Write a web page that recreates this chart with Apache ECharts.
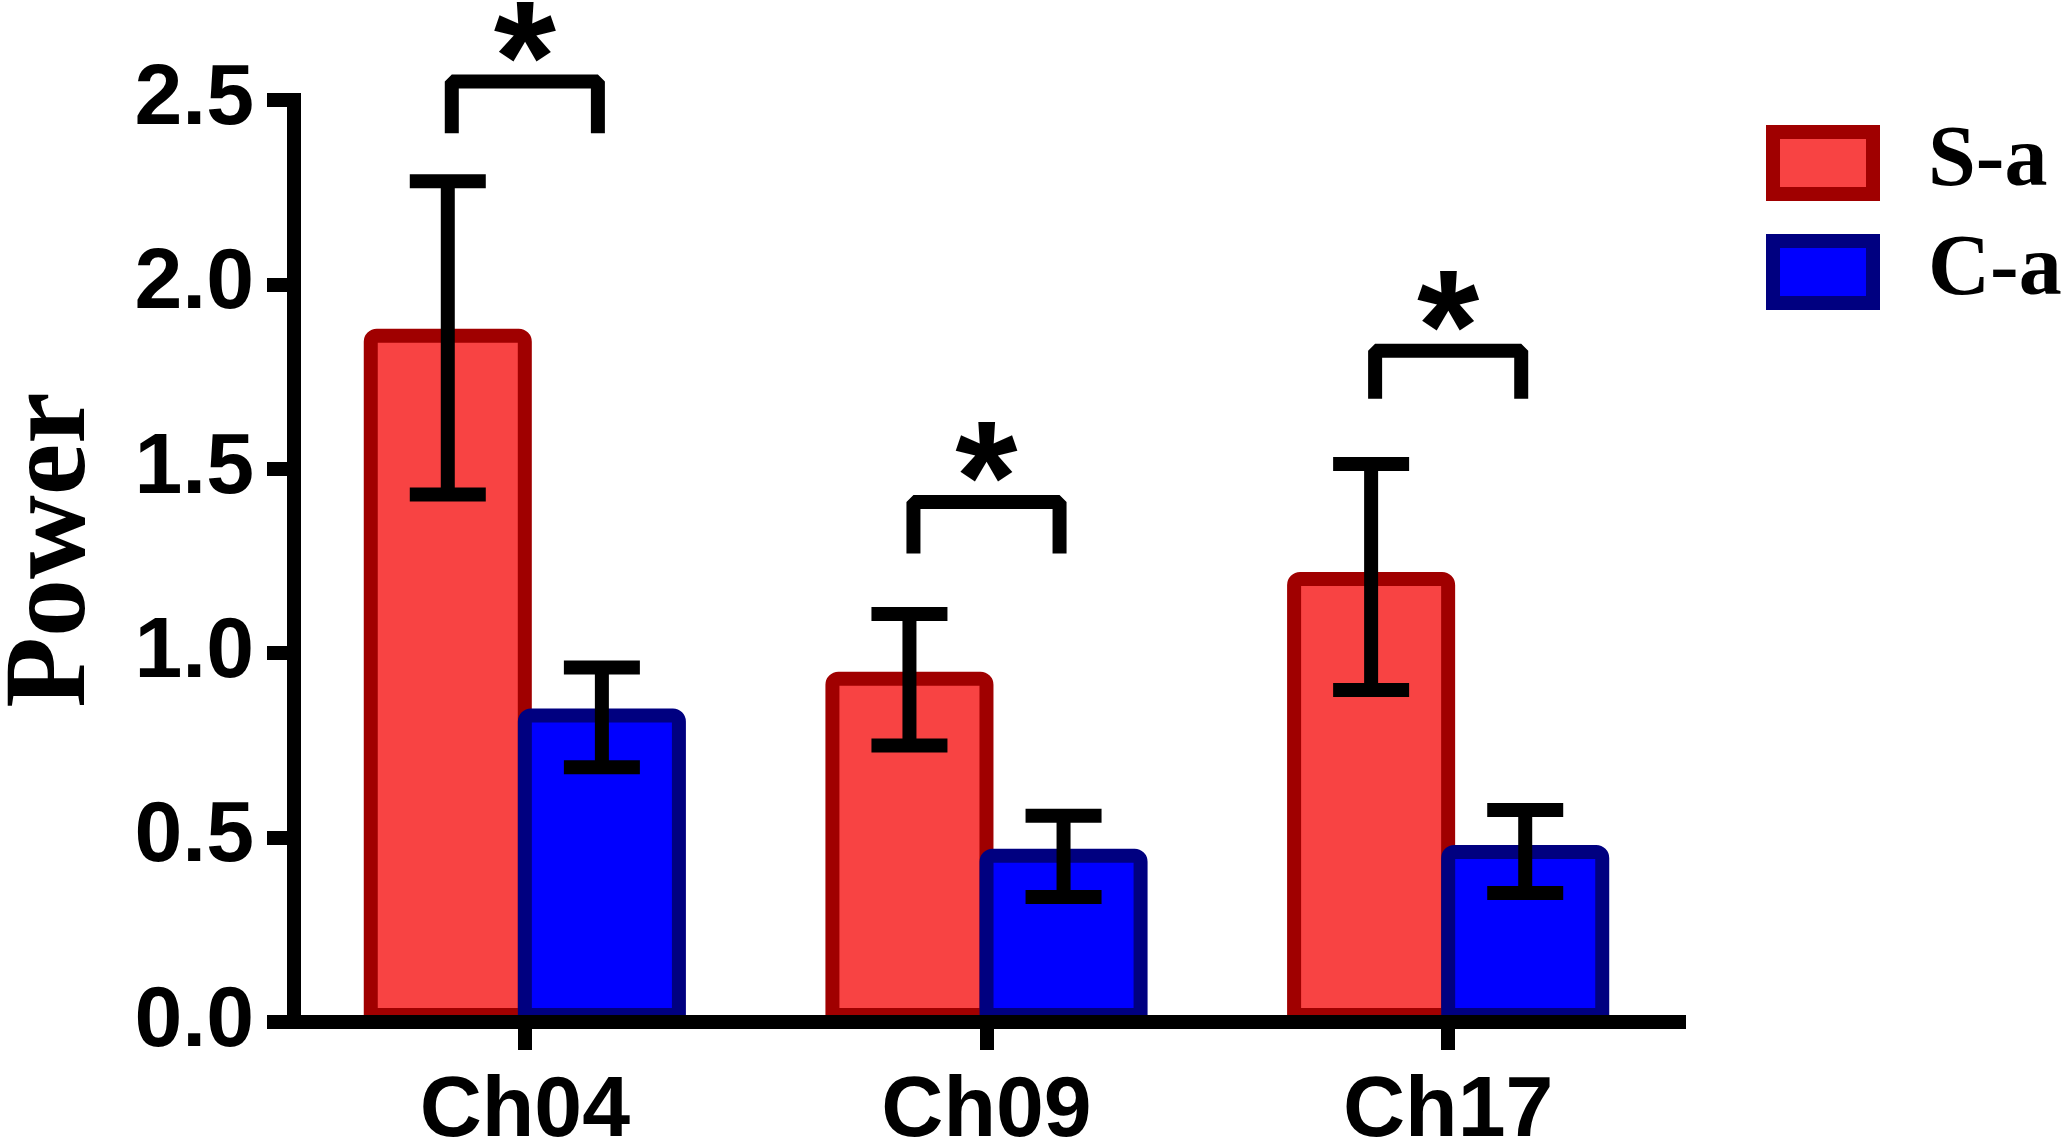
<!DOCTYPE html>
<html>
  <head>
    <meta charset="utf-8" />
    <title>Power bar chart</title>
    <script src="https://cdn.jsdelivr.net/npm/echarts@6.0.0/dist/echarts.min.js"></script>
    <style>
      body {
        margin: 0;
        padding: 0;
        background: #fff;
      }
      #main {
        width: 2066px;
        height: 1144px;
      }
    </style>
  </head>
  <body>
    <div id="main"></div>
    <script type="text/javascript">
      // data
      var channels = ["Ch04", "Ch09", "Ch17"];
      var seriesNames = ["S-a", "C-a"];
      var sMean = [1.88, 0.95, 1.22];
      var sLow = [1.43, 0.75, 0.9];
      var sHigh = [2.28, 1.106, 1.513];
      var cMean = [0.85, 0.47, 0.48];
      var cLow = [0.691, 0.339, 0.35];
      var cHigh = [0.961, 0.559, 0.575];
      // significance brackets: top and bottom of each bracket
      var bracketTop = [2.55, 1.41, 1.82];
      var bracketBottom = [2.41, 1.27, 1.69];
      var bracketMark = ["*", "*", "*"];
      var yTicks = [0, 0.5, 1, 1.5, 2, 2.5];

      var BAR_PCT = 36.4; // bar width, % of a category
      var BAR_GAP = -8.3; // bars share their border
      var OFF = (BAR_PCT / 100) * (1 + BAR_GAP / 100) / 2; // bar centre offset, part of a category

      var myChart = echarts.init(document.getElementById("main"));

      // error bar data: [category, low, high, side]  side -1 = S-a, 1 = C-a
      var errData = [];
      channels.forEach(function (c, i) {
        errData.push([i, sLow[i], sHigh[i], -1]);
        errData.push([i, cLow[i], cHigh[i], 1]);
      });

      var bracketData = channels.map(function (c, i) {
        return [i, bracketTop[i], bracketBottom[i]];
      });

      function renderError(params, api) {
        var band = api.size([1, 0])[0];
        var off = band * OFF * api.value(3);
        var lo = api.coord([api.value(0), api.value(1)]);
        var hi = api.coord([api.value(0), api.value(2)]);
        var x = lo[0] + off;
        var cap = 38;
        var style = { stroke: "#000", lineWidth: 14, fill: null };
        return {
          type: "group",
          children: [
            { type: "line", shape: { x1: x, y1: lo[1], x2: x, y2: hi[1] }, style: style },
            { type: "line", shape: { x1: x - cap, y1: lo[1], x2: x + cap, y2: lo[1] }, style: style },
            { type: "line", shape: { x1: x - cap, y1: hi[1], x2: x + cap, y2: hi[1] }, style: style }
          ]
        };
      }

      function renderBracket(params, api) {
        var band = api.size([1, 0])[0];
        var off = band * OFF;
        var top = api.coord([api.value(0), api.value(1)]);
        var bot = api.coord([api.value(0), api.value(2)]);
        var xl = top[0] - off + 4;
        var xr = top[0] + off - 4;
        return {
          type: "group",
          children: [
            {
              type: "polyline",
              shape: { points: [[xl, bot[1]], [xl, top[1]], [xr, top[1]], [xr, bot[1]]] },
              style: { stroke: "#000", lineWidth: 14, fill: null, lineJoin: "bevel" }
            },
            {
              type: "text",
              x: top[0],
              y: top[1] - 14,
              style: {
                text: bracketMark[params.dataIndex],
                fill: "#000",
                font: "bold 160px 'Liberation Sans', Arial, sans-serif",
                align: "center",
                verticalAlign: "middle"
              }
            }
          ]
        };
      }

      var option = {
        animation: false,
        backgroundColor: "#fff",
        grid: { left: 294, right: 387, top: 100, bottom: 122, outerBoundsMode: "none" },
        legend: {
          orient: "vertical",
          left: 1766,
          top: 120,
          padding: 0,
          itemWidth: 100,
          itemHeight: 62,
          itemGap: 23,
          icon: "rect",
          data: seriesNames,
          itemStyle: { borderWidth: 14 },
          textStyle: {
            fontFamily: "'Liberation Serif', 'Times New Roman', serif",
            fontWeight: "bold",
            fontSize: 86,
            color: "#000",
            padding: [0, 0, 0, 50]
          }
        },
        xAxis: {
          type: "category",
          data: channels,
          z: 5,
          axisLine: { show: true, lineStyle: { color: "#000", width: 14, cap: "square" } },
          axisTick: { show: true, alignWithLabel: true, length: 28, lineStyle: { color: "#000", width: 14 } },
          axisLabel: {
            margin: 47,
            color: "#000",
            fontFamily: "'Liberation Sans', Arial, sans-serif",
            fontWeight: "bold",
            fontSize: 86
          },
          splitLine: { show: false }
        },
        yAxis: {
          type: "value",
          min: yTicks[0],
          max: yTicks[yTicks.length - 1],
          interval: 0.5,
          name: "Power",
          nameLocation: "middle",
          nameGap: 182,
          nameTextStyle: {
            fontFamily: "'Liberation Serif', 'Times New Roman', serif",
            fontWeight: "bold",
            fontSize: 116,
            color: "#000",
            padding: [0, 0, 0, 22]
          },
          axisLine: { show: true, lineStyle: { color: "#000", width: 14, cap: "square" } },
          axisTick: { show: true, length: 27, lineStyle: { color: "#000", width: 14 } },
          axisLabel: {
            margin: 40,
            color: "#000",
            fontFamily: "'Liberation Sans', Arial, sans-serif",
            fontWeight: "bold",
            fontSize: 86,
            formatter: function (v) {
              return v.toFixed(1);
            }
          },
          splitLine: { show: false }
        },
        series: [
          {
            name: seriesNames[0],
            type: "bar",
            data: sMean,
            barWidth: BAR_PCT + "%",
            barGap: BAR_GAP + "%",
            itemStyle: { color: "#F84343", borderColor: "#A00000", borderWidth: 14, borderRadius: [6, 6, 0, 0] }
          },
          {
            name: seriesNames[1],
            type: "bar",
            data: cMean,
            barWidth: BAR_PCT + "%",
            barGap: BAR_GAP + "%",
            itemStyle: { color: "#0000FF", borderColor: "#000080", borderWidth: 14, borderRadius: [6, 6, 0, 0] }
          },
          {
            type: "custom",
            renderItem: renderError,
            data: errData,
            z: 6,
            clip: false,
            silent: true
          },
          {
            type: "custom",
            renderItem: renderBracket,
            data: bracketData,
            z: 6,
            clip: false,
            silent: true
          }
        ]
      };

      myChart.setOption(option);
    </script>
  </body>
</html>
